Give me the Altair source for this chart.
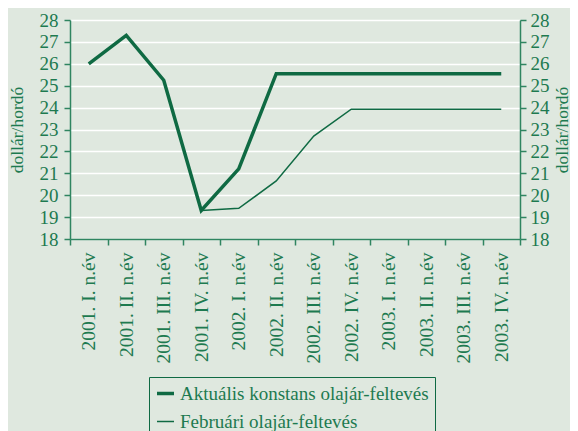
import altair as alt
import pandas as pd

quarters = ["2001. I. n.év", "2001. II. n.év", "2001. III. n.év", "2001. IV. n.év",
            "2002. I. n.év", "2002. II. n.év", "2002. III. n.év", "2002. IV. n.év",
            "2003. I. n.év", "2003. II. n.év", "2003. III. n.év", "2003. IV. n.év"]
actual = [26.0, 27.3, 25.25, 19.3, 21.2, 25.55, 25.55, 25.55, 25.55, 25.55, 25.55, 25.55]
february = [None, None, None, 19.3, 19.4, 20.65, 22.7, 23.93, 23.93, 23.93, 23.93, 23.93]
series_names = ["Aktuális konstans olajár-feltevés", "Februári olajár-feltevés"]
y_ticks = list(range(18, 29))

rows = []
for q, a, f in zip(quarters, actual, february):
    rows.append({"q": q, "v": a, "s": series_names[0]})
    if f is not None:
        rows.append({"q": q, "v": f, "s": series_names[1]})
df = pd.DataFrame(rows)

GREEN = "#0f6a43"
TEXT = "#1d7a50"
AXIS = "#2f8560"
BG = "#dfe8df"
FONT = "Liberation Serif"

x = alt.X("q:N", sort=quarters, bandPosition=0.5, title=None,
          scale=alt.Scale(type="band", paddingInner=0, paddingOuter=0),
          axis=alt.Axis(labelAngle=270, labelAlign="right", labelBaseline="middle",
                        tickBand="extent", grid=False, tickSize=6, labelPadding=7,
                        domainColor=AXIS, tickColor=AXIS, domainWidth=1.5, tickWidth=1.5,
                        labelColor=TEXT, labelFont=FONT, labelFontSize=19.5,
                        labelLimit=300))

sw = alt.StrokeWidth("s:O", scale=alt.Scale(domain=series_names, range=[3.5, 1.5]),
                     legend=alt.Legend(title=None, orient="none", legendX=79, legendY=357,
                                       direction="vertical", symbolType="stroke",
                                       symbolStrokeColor=GREEN, symbolSize=289,
                                       labelFont=FONT, labelFontSize=19, labelColor=TEXT,
                                       labelLimit=400,
                                       strokeColor=GREEN, padding=6, rowPadding=8,
                                       labelOffset=4))

def yenc(orient):
    if orient == "left":
        tx, tb, lp = -53, "middle", 6
    else:
        tx, tb, lp = 47, "alphabetic", 4
    return alt.Y("v:Q", title="dollár/hordó",
                 scale=alt.Scale(domain=[18, 28], nice=False, zero=False),
                 axis=alt.Axis(orient=orient, values=y_ticks, grid=(orient == "left"),
                               gridColor="white", gridWidth=1.5, tickSize=6,
                               domainColor=AXIS, tickColor=AXIS, domainWidth=1.5, tickWidth=1.5,
                               labelColor=TEXT, labelFont=FONT, labelFontSize=19,
                               labelPadding=lp, titleColor=TEXT, titleFont=FONT,
                               titleFontSize=17.5, titleFontWeight="normal",
                               titleAngle=270, titleX=tx, titleY=109.5,
                               titleAlign="center", titleBaseline=tb))

l1 = alt.Chart(df).transform_filter(alt.datum.s == series_names[0]).mark_line(color=GREEN).encode(
    x=x, y=yenc("left"), strokeWidth=sw)
l2 = alt.Chart(df).transform_filter(alt.datum.s == series_names[1]).mark_line(color=GREEN).encode(
    x=x, y=yenc("right"), strokeWidth=sw)

chart = alt.layer(l1, l2).resolve_scale(y="independent").properties(
    width=450, height=219, background=BG,
    padding={"left": 62, "top": 12, "right": 50, "bottom": 192},
    autosize=alt.AutoSizeParams(type="none")
).configure_view(stroke=None)

chart.save("out.html", embed_options={"renderer": "svg", "actions": False})
